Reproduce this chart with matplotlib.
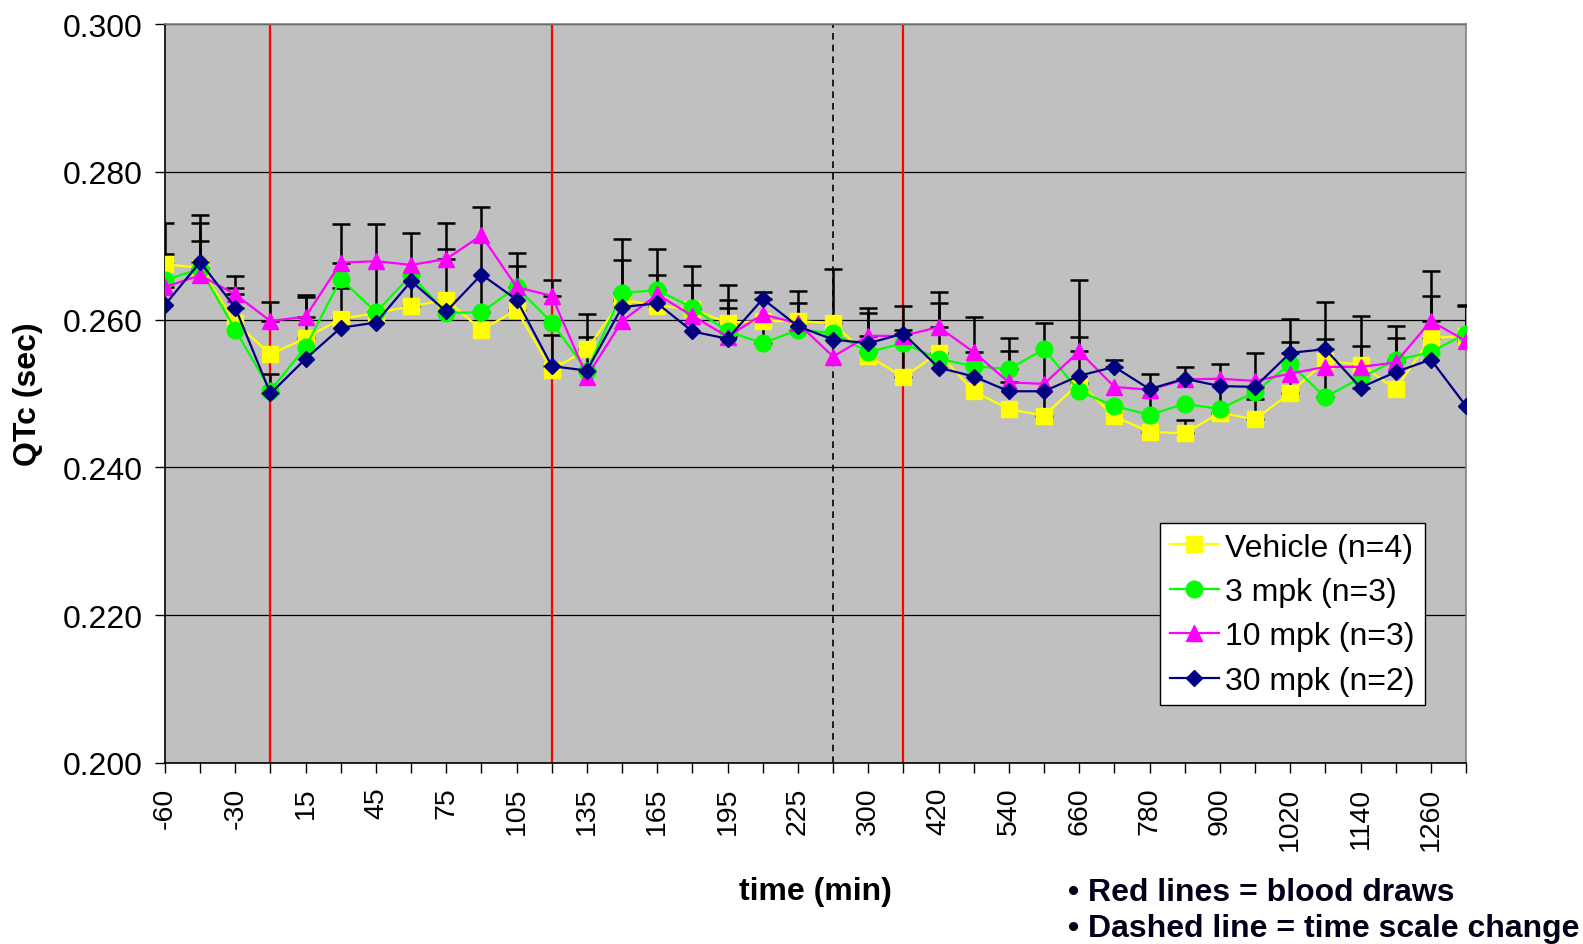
import numpy as np
import matplotlib
matplotlib.use("Agg")
import matplotlib.pyplot as plt

plt.rcParams['font.family'] = ['Liberation Sans', 'DejaVu Sans']

# time points (min), categorical axis
times = [-60, -45, -30, 0, 15, 30, 45, 60, 75, 90, 105, 120, 135, 150, 165, 180,
         195, 210, 225, 240, 300, 360, 420, 480, 540, 600, 660, 720, 780, 840,
         900, 960, 1020, 1080, 1140, 1200, 1260, 1320]

vehicle = [0.2675, 0.2670, 0.2596, 0.2553, 0.2575, 0.2601, 0.2609, 0.2618, 0.2627, 0.2586,
           0.2613, 0.2532, 0.2560, 0.2627, 0.2619, 0.2614, 0.2596, 0.2598, 0.2598, 0.2595,
           0.2551, 0.2522, 0.2555, 0.2503, 0.2479, 0.2470, 0.2514, 0.2469, 0.2448, 0.2446,
           0.2474, 0.2465, 0.2501, 0.2544, 0.2539, 0.2506, 0.2575, 0.2578]
mpk3 = [0.2653, 0.2669, 0.2586, 0.2504, 0.2563, 0.2655, 0.2610, 0.2660, 0.2609, 0.2610,
        0.2644, 0.2596, 0.2531, 0.2636, 0.2640, 0.2616, 0.2584, 0.2568, 0.2586, 0.2582,
        0.2556, 0.2568, 0.2547, 0.2537, 0.2533, 0.2560, 0.2503, 0.2483, 0.2471, 0.2486,
        0.2479, 0.2502, 0.2540, 0.2495, 0.2521, 0.2545, 0.2556, 0.2581]
mpk10 = [0.2644, 0.2660, 0.2634, 0.2598, 0.2604, 0.2677, 0.2679, 0.2674, 0.2682, 0.2714,
         0.2644, 0.2632, 0.2523, 0.2598, 0.2634, 0.2605, 0.2577, 0.2607, 0.2595, 0.2550,
         0.2578, 0.2578, 0.2590, 0.2556, 0.2515, 0.2513, 0.2557, 0.2509, 0.2505, 0.2519,
         0.2520, 0.2517, 0.2527, 0.2536, 0.2536, 0.2542, 0.2598, 0.2571]
mpk30 = [0.2620, 0.2678, 0.2616, 0.2500, 0.2547, 0.2589, 0.2596, 0.2652, 0.2611, 0.2661,
         0.2627, 0.2537, 0.2531, 0.2617, 0.2622, 0.2584, 0.2574, 0.2628, 0.2591, 0.2573,
         0.2568, 0.2581, 0.2535, 0.2523, 0.2503, 0.2503, 0.2524, 0.2536, 0.2506, 0.2520,
         0.2510, 0.2509, 0.2555, 0.2560, 0.2508, 0.2529, 0.2546, 0.2483]

# upper end of the (+) error bars, NaN = no bar
vehicle_top = [0.2689, 0.2707, np.nan, np.nan, 0.2630, 0.2643, np.nan, 0.2717, 0.2695, np.nan,
               0.2673, np.nan, 0.2607, 0.2680, 0.2660, 0.2673, 0.2647, np.nan, 0.2639, 0.2668,
               np.nan, 0.2618, 0.2622, np.nan, np.nan, 0.2596, 0.2576, np.nan, 0.2527, 0.2464,
               0.2540, 0.2493, 0.2570, np.nan, 0.2605, np.nan, 0.2632, np.nan]
mpk3_top = [np.nan, 0.2731, np.nan, np.nan, np.nan, np.nan, 0.2729, np.nan, np.nan, 0.2753,
            np.nan, np.nan, np.nan, 0.2709, 0.2695, 0.2647, 0.2627, 0.2598, 0.2623, np.nan,
            0.2609, np.nan, np.nan, np.nan, 0.2575, np.nan, np.nan, np.nan, np.nan, np.nan,
            np.nan, np.nan, np.nan, 0.2624, np.nan, 0.2575, np.nan, 0.2620]
mpk10_top = [0.2731, np.nan, 0.2659, 0.2624, 0.2633, 0.2729, np.nan, np.nan, 0.2731, np.nan,
             0.2690, 0.2653, np.nan, np.nan, np.nan, np.nan, 0.2616, np.nan, np.nan, np.nan,
             0.2616, np.nan, 0.2638, 0.2604, 0.2557, np.nan, 0.2654, np.nan, np.nan, np.nan,
             np.nan, np.nan, np.nan, np.nan, np.nan, 0.2592, 0.2666, 0.2619]
mpk30_top = [np.nan, 0.2742, 0.2643, 0.2527, np.nan, np.nan, np.nan, np.nan, np.nan, np.nan,
             np.nan, 0.2579, 0.2577, np.nan, np.nan, np.nan, np.nan, 0.2638, np.nan, np.nan,
             np.nan, 0.2586, np.nan, np.nan, np.nan, np.nan, np.nan, 0.2545, np.nan, 0.2536,
             np.nan, 0.2555, 0.2601, 0.2574, 0.2564, np.nan, np.nan, np.nan]

series_names = ['Vehicle (n=4)', '3 mpk (n=3)', '10 mpk (n=3)', '30 mpk (n=2)']
blood_draws = [0, 120, 360]
scale_change = 240

x = np.arange(len(times))

fig = plt.figure(figsize=(15.83, 9.45), dpi=100)
fig.patch.set_facecolor('white')
ax = fig.add_axes([165 / 1583, 1 - 764 / 945, (1466 - 165) / 1583, (764 - 25) / 945])
ax.set_facecolor('#C0C0C0')

styles = [
    (vehicle, vehicle_top, '#FFFF00', 's', 11),
    (mpk3, mpk3_top, '#00FF00', 'o', 12),
    (mpk10, mpk10_top, '#FF00FF', '^', 12),
    (mpk30, mpk30_top, '#000080', 'D', 8.5),
]

for vals, tops, color, marker, ms in styles:
    vals = np.array(vals)
    err = np.nan_to_num(np.array(tops) - vals, nan=0.0)
    err[err < 0] = 0
    mask = err > 0
    ax.errorbar(x[mask], vals[mask], yerr=[np.zeros(mask.sum()), err[mask]],
                fmt='none', ecolor='black', elinewidth=1.8, capsize=6.5,
                capthick=1.8, zorder=3)

for (vals, tops, color, marker, ms), name in zip(styles, series_names):
    ax.plot(x, vals, color=color, lw=1.6, marker=marker, markersize=ms,
            markerfacecolor=color, markeredgecolor=color, label=name, zorder=4)

# blood draws and time-scale change
for t in blood_draws:
    ax.axvline(times.index(t), color='#FF0000', lw=1.6, zorder=2)
ax.axvline(times.index(scale_change), color='black', lw=1.2, ls=(0, (4, 3)), zorder=2)

ax.set_xlim(0, len(times) - 1)
ax.set_ylim(0.200, 0.300)
ax.set_yticks(np.arange(0.200, 0.3001, 0.020))
ax.set_yticklabels([f"{v:.3f}" for v in np.arange(0.200, 0.3001, 0.020)])
ax.yaxis.grid(True, color='black', lw=0.9)
ax.set_axisbelow(True)

ax.set_xticks(x)
ax.set_xticklabels([str(t) if i % 2 == 0 else '' for i, t in enumerate(times)],
                   rotation=90)
ax.tick_params(axis='x', length=7, width=1, pad=10, labelsize=20.5)
ax.tick_params(axis='y', length=7, width=1, pad=9, labelsize=23)

for side in ['top', 'right']:
    ax.spines[side].set_color('#808080')
    ax.spines[side].set_linewidth(1.2)
for side in ['left', 'bottom']:
    ax.spines[side].set_color('black')
    ax.spines[side].set_linewidth(1.2)

ax.set_ylabel('QTc (sec)', fontsize=23, fontweight='bold', labelpad=14)
ax.set_xlabel('time (min)', fontsize=23, fontweight='bold', labelpad=19)

leg = ax.legend(loc='upper left', bbox_to_anchor=(1160 / 1583, 1 - 524 / 945),
                bbox_transform=fig.transFigure, fontsize=23, frameon=True,
                fancybox=False, framealpha=1, edgecolor='black',
                handlelength=1.55, handletextpad=0.2, borderpad=0.3,
                labelspacing=0.45, borderaxespad=0)
leg.get_frame().set_linewidth(1.0)

fig.text(1068 / 1583, 1 - 893 / 945, '\u2022 Red lines = blood draws', fontsize=23,
         fontweight='bold', color='#000018', va='center', ha='left')
fig.text(1068 / 1583, 1 - 929 / 945, '\u2022 Dashed line = time scale change', fontsize=23,
         fontweight='bold', color='#000018', va='center', ha='left')

fig.savefig('out.png', dpi=100, facecolor='white')
